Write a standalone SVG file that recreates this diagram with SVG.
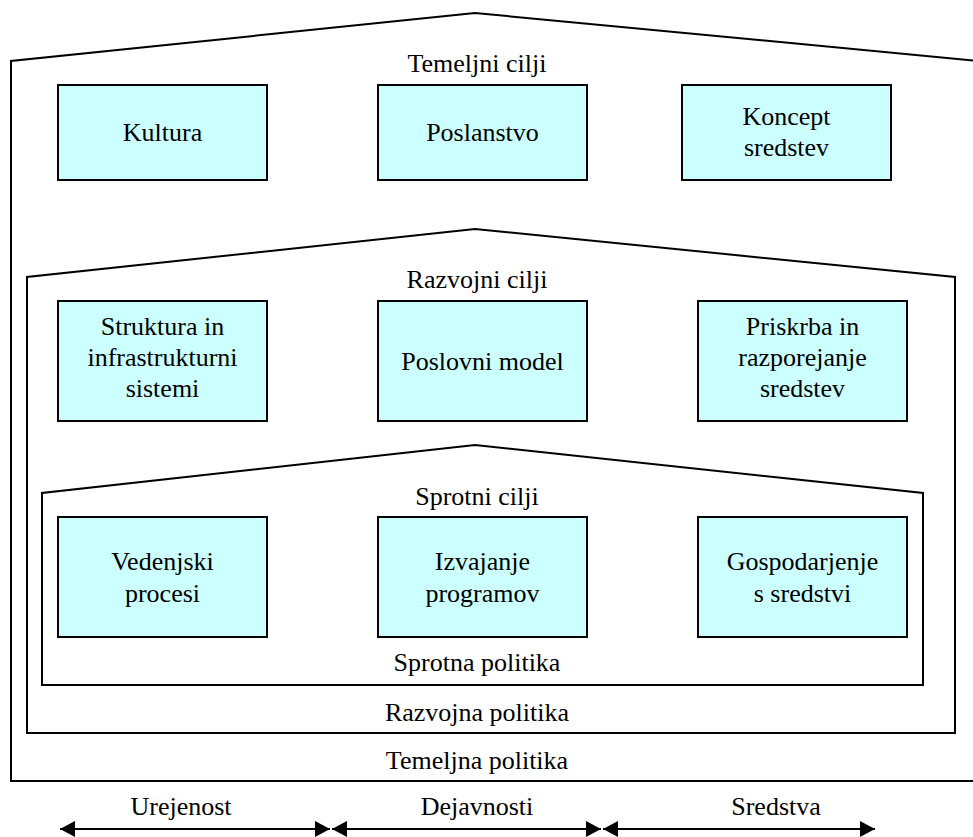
<svg xmlns="http://www.w3.org/2000/svg" width="973" height="837" viewBox="0 0 973 837">
  <style>
    .house { fill: none; stroke: #000; stroke-width: 2; stroke-linejoin: miter; }
    .box { fill: #ccffff; stroke: #000; stroke-width: 2; }
    .t { font-family: 'Liberation Serif', serif; font-size: 26px; fill: #000; text-anchor: middle; }
    .arr { stroke: #000; stroke-width: 2; fill: none; marker-start: url(#head); marker-end: url(#head); }
  </style>
  <defs>
    <marker id="head" viewBox="0 0 15 16" refX="15" refY="8" markerWidth="15" markerHeight="16" markerUnits="userSpaceOnUse" orient="auto-start-reverse">
      <path d="M0,0 L15,8 L0,16 Z" fill="#000"/>
    </marker>
  </defs>

  <rect width="973" height="837" fill="#fff"/>

  <!-- nested house outlines -->
  <g id="house-temeljni">
    <polygon class="house" points="11,781 11,61 475,13 1010,64 1010,781"/>
    <text class="t" x="477" y="72">Temeljni cilji</text>
    <text class="t" x="477" y="769">Temeljna politika</text>
  </g>
  <g id="house-razvojni">
    <polygon class="house" points="27,733 27,277 475,229 955,277 955,733"/>
    <text class="t" x="477" y="288">Razvojni cilji</text>
    <text class="t" x="477" y="721">Razvojna politika</text>
  </g>
  <g id="house-sprotni">
    <polygon class="house" points="42,685 42,493 475,445 923,493 923,685"/>
    <text class="t" x="477" y="505">Sprotni cilji</text>
    <text class="t" x="477" y="671">Sprotna politika</text>
  </g>

  <!-- row 1 -->
  <g id="kultura">
    <rect class="box" x="58" y="85" width="209" height="95"/>
    <text class="t" x="162.5" y="141">Kultura</text>
  </g>
  <g id="poslanstvo">
    <rect class="box" x="378" y="85" width="209" height="95"/>
    <text class="t" x="482.5" y="141">Poslanstvo</text>
  </g>
  <g id="koncept-sredstev">
    <rect class="box" x="682" y="85" width="209" height="95"/>
    <text class="t" x="786.5" y="125">Koncept</text>
    <text class="t" x="786.5" y="156">sredstev</text>
  </g>

  <!-- row 2 -->
  <g id="struktura">
    <rect class="box" x="58" y="301" width="209" height="120"/>
    <text class="t" x="162.5" y="335">Struktura in</text>
    <text class="t" x="162.5" y="366">infrastrukturni</text>
    <text class="t" x="162.5" y="397">sistemi</text>
  </g>
  <g id="poslovni-model">
    <rect class="box" x="378" y="301" width="209" height="120"/>
    <text class="t" x="482.5" y="370">Poslovni model</text>
  </g>
  <g id="priskrba">
    <rect class="box" x="698" y="301" width="209" height="120"/>
    <text class="t" x="802.5" y="335">Priskrba in</text>
    <text class="t" x="802.5" y="366">razporejanje</text>
    <text class="t" x="802.5" y="397">sredstev</text>
  </g>

  <!-- row 3 -->
  <g id="vedenjski-procesi">
    <rect class="box" x="58" y="517" width="209" height="120"/>
    <text class="t" x="162.5" y="570">Vedenjski</text>
    <text class="t" x="162.5" y="602">procesi</text>
  </g>
  <g id="izvajanje-programov">
    <rect class="box" x="378" y="517" width="209" height="120"/>
    <text class="t" x="482.5" y="570">Izvajanje</text>
    <text class="t" x="482.5" y="602">programov</text>
  </g>
  <g id="gospodarjenje">
    <rect class="box" x="698" y="517" width="209" height="120"/>
    <text class="t" x="802.5" y="570">Gospodarjenje</text>
    <text class="t" x="802.5" y="602">s sredstvi</text>
  </g>

  <!-- bottom axis labels -->
  <g id="labels">
    <text class="t" x="181" y="815">Urejenost</text>
    <text class="t" x="477" y="815">Dejavnosti</text>
    <text class="t" x="776" y="815">Sredstva</text>
  </g>

  <!-- connectors: double-headed span arrows -->
  <g id="connectors">
    <line class="arr" x1="60" y1="829" x2="330" y2="829"/>
    <line class="arr" x1="332" y1="829" x2="601" y2="829"/>
    <line class="arr" x1="603" y1="829" x2="875" y2="829"/>
  </g>
</svg>
